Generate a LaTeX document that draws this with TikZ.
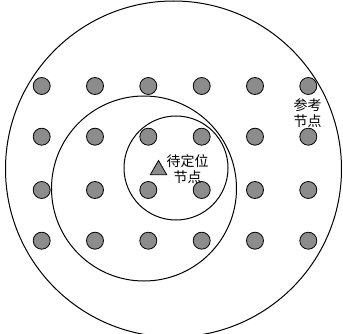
\documentclass[tikz,border=0pt]{standalone}
\usepackage{fontspec}
\newfontfamily\cjk{Noto Sans CJK SC}
\usetikzlibrary{shapes.geometric,positioning}

\begin{document}
\begin{tikzpicture}[x=1pt, y=-1pt,
  refnode/.style={circle, draw, line width=0.8pt, fill=gray!90!white, minimum size=17pt, inner sep=0pt},
  target/.style={regular polygon, regular polygon sides=3, draw, line width=0.8pt, fill=gray!90!white, minimum size=19pt, inner sep=0pt},
  lbl/.style={font=\cjk\fontsize{14pt}{16pt}\selectfont, align=center, inner sep=0pt},
  ring/.style={draw, line width=1pt}]
\useasboundingbox (0,0) rectangle (343,334);

\draw[ring] (173.5,169) circle (168);
\draw[ring] (144,188.5) circle (92.5);
\draw[ring] (176,168) circle (52);

\foreach \c/\x in {1/41.7, 2/95, 3/148.3, 4/201.7, 5/255, 6/308.3}
  \foreach \r/\y in {1/86, 2/136.7, 3/190, 4/240.7}
    \node[refnode] (n\r\c) at (\x,\y) {};

\node[target] (t) at (158.5,170) {};
\node[lbl, right=2pt of t.east, yshift=0.5pt] (tl) {待定位\\节点};
\node[lbl] (rl) at (307.5,113) {参考\\节点};
\end{tikzpicture}
\end{document}
